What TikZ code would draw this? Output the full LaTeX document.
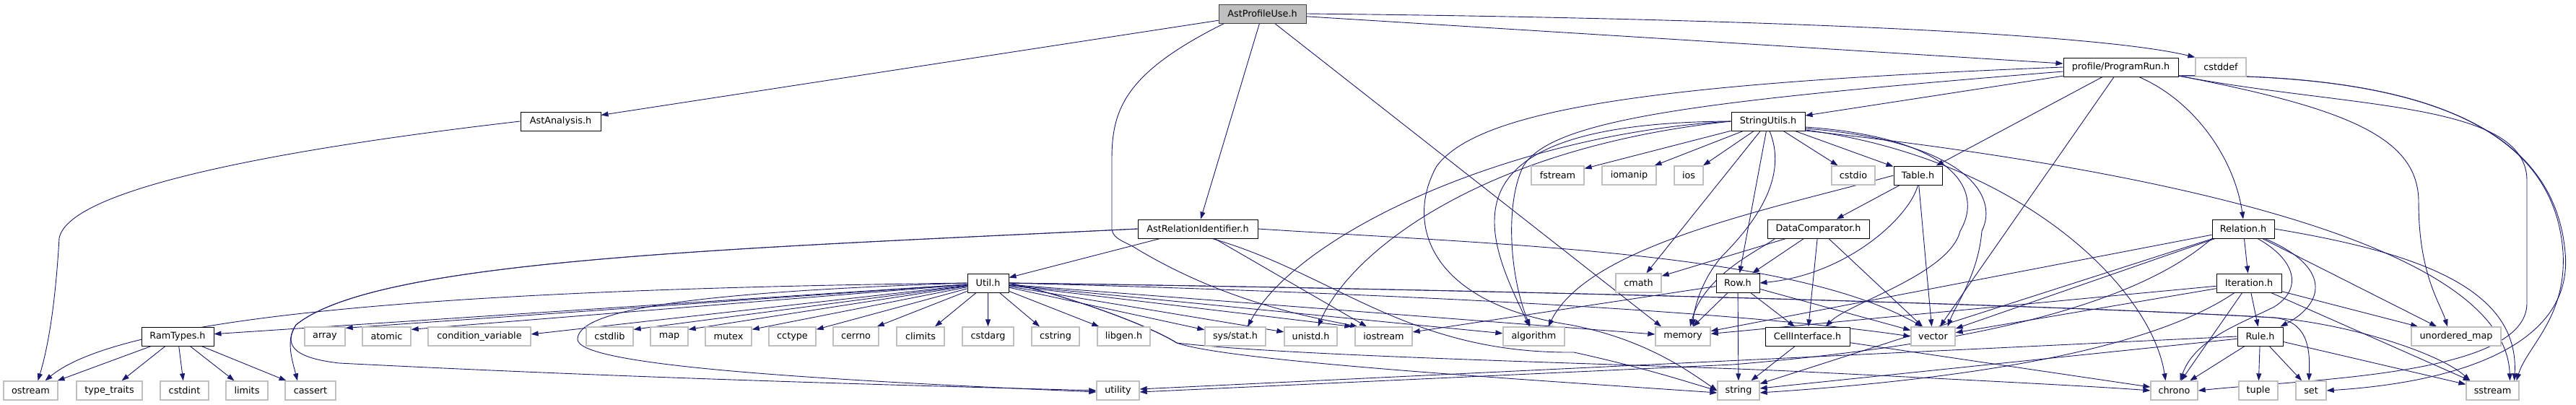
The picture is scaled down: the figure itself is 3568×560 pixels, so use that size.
\documentclass[tikz,border=0pt]{standalone}
\usepackage{fontspec}
\setmainfont{DejaVu Sans}
\usetikzlibrary{arrows.meta}
\definecolor{eblue}{HTML}{191970}
\definecolor{sysgray}{HTML}{BFBFBF}
\pgfdeclarelayer{bg}
\pgfsetlayers{bg,main}
\begin{document}
\begin{tikzpicture}[x=1pt,y=-1pt,
  nodebox/.style={rectangle, minimum height=26pt, inner sep=0pt, font=\fontsize{12.8}{15}\selectfont},
  pbox/.style={nodebox, draw=black, line width=1pt, fill=white},
  sbox/.style={nodebox, draw=sysgray, line width=1.3pt, fill=white},
  rbox/.style={nodebox, draw=black!75, line width=1pt, fill=sysgray},
  dep/.style={draw=eblue, line width=0.9pt, -{Triangle[length=10pt,width=7pt]}}]
\useasboundingbox (0,0) rectangle (3568,560);
% row 1
\node[rbox, minimum width=121pt] (APU) at (1748.5,19) {AstProfileUse.h};
% row 2
\node[pbox, minimum width=159pt] (PR) at (2937.5,93) {profile/ProgramRun.h};
\node[sbox, minimum width=70pt] (cstddef) at (3076,93) {cstddef};
% row 3
\node[pbox, minimum width=111pt] (AA) at (776.5,168) {AstAnalysis.h};
\node[pbox, minimum width=102pt] (SU) at (2449,168) {StringUtils.h};
% row 4
\node[sbox, minimum width=73pt] (fstream) at (2157.5,243) {fstream};
\node[sbox, minimum width=75pt] (iomanip) at (2256.5,243) {iomanip};
\node[sbox, minimum width=40pt] (ios) at (2339,243) {ios};
\node[sbox, minimum width=60pt] (cstdio) at (2567,243) {cstdio};
\node[pbox, minimum width=67pt] (Table) at (2656.5,243) {Table.h};
% row 5
\node[pbox, minimum width=166pt] (ARI) at (1659,317) {AstRelationIdentifier.h};
\node[pbox, minimum width=141pt] (DC) at (2518.5,317) {DataComparator.h};
\node[pbox, minimum width=86pt] (Rel) at (3107,317) {Relation.h};
% row 6
\node[pbox, minimum width=57pt] (Util) at (1368.5,392) {Util.h};
\node[sbox, minimum width=63pt] (cmath) at (2269.5,392) {cmath};
\node[pbox, minimum width=60pt] (Row) at (2407,392) {Row.h};
\node[pbox, minimum width=90pt] (Iter) at (3115,392) {Iteration.h};
% row 7
\node[pbox, minimum width=100pt] (RamTypes) at (246,466) {RamTypes.h};
\node[sbox, minimum width=56pt] (array) at (450,466) {array};
\node[sbox, minimum width=67pt] (atomic) at (535.5,466) {atomic};
\node[sbox, minimum width=142pt] (condvar) at (664,466) {condition\_variable};
\node[sbox, minimum width=65pt] (cstdlib) at (844.5,466) {cstdlib};
\node[sbox, minimum width=52pt] (map) at (927,466) {map};
\node[sbox, minimum width=64pt] (mutex) at (1009,466) {mutex};
\node[sbox, minimum width=65pt] (cctype) at (1097.5,466) {cctype};
\node[sbox, minimum width=63pt] (cerrno) at (1185.5,466) {cerrno};
\node[sbox, minimum width=66pt] (climits) at (1275,466) {climits};
\node[sbox, minimum width=71pt] (cstdarg) at (1368.5,466) {cstdarg};
\node[sbox, minimum width=66pt] (cstring) at (1462,466) {cstring};
\node[sbox, minimum width=73pt] (libgen) at (1556.5,466) {libgen.h};
\node[sbox, minimum width=84pt] (sysstat) at (1711,466) {sys/stat.h};
\node[sbox, minimum width=73pt] (unistd) at (1815.5,466) {unistd.h};
\node[sbox, minimum width=79pt] (iostream) at (1916.5,466) {iostream};
\node[sbox, minimum width=85pt] (algorithm) at (2124.5,466) {algorithm};
\node[sbox, minimum width=76pt] (memory) at (2331,466) {memory};
\node[pbox, minimum width=117pt] (CI) at (2503.5,466) {CellInterface.h};
\node[sbox, minimum width=61pt] (vector) at (2677.5,466) {vector};
\node[pbox, minimum width=63pt] (Rule) at (3130.5,466) {Rule.h};
\node[sbox, minimum width=124pt] (umap) at (3402,466) {unordered\_map};
% row 8
\node[sbox, minimum width=75pt] (ostream) at (42.5,541) {ostream};
\node[sbox, minimum width=91pt] (typetraits) at (151.5,541) {type\_traits};
\node[sbox, minimum width=67pt] (cstdint) at (255.5,541) {cstdint};
\node[sbox, minimum width=58pt] (limits) at (342,541) {limits};
\node[sbox, minimum width=70pt] (cassert) at (430,541) {cassert};
\node[sbox, minimum width=59pt] (utility) at (1548.5,541) {utility};
\node[sbox, minimum width=58pt] (string) at (2408,541) {string};
\node[sbox, minimum width=65pt] (chrono) at (3011.5,541) {chrono};
\node[sbox, minimum width=54pt] (tuple) at (3128,541) {tuple};
\node[sbox, minimum width=42pt] (set) at (3201,541) {set};
\node[sbox, minimum width=73pt] (sstream) at (3452.5,541) {sstream};

\begin{pgfonlayer}{bg}
% ---- AstProfileUse.h
\draw[dep] (APU) -- (AA);
\draw[dep] (APU) -- (ARI);
\draw[dep] (APU) -- (PR);
\draw[dep] (APU) -- ([xshift=-30pt]memory.north);
\draw[dep] (APU.east) .. controls (2400,25) and (2900,45) .. (cstddef.north west);
\draw[dep] ([xshift=8pt]APU.south west) .. controls (1560,100) and (1540,150) .. (1540,220) -- (1540,318)
  .. controls (1542,332) and (1560,335) .. (1575,345) .. controls (1700,420) and (1820,440) .. ([xshift=4pt]iostream.north west);
% ---- AstAnalysis.h
\draw[dep] (AA.west) .. controls (400,205) and (95,260) .. (82,330) .. controls (78,400) and (70,470) .. ([xshift=10pt]ostream.north);
% ---- AstRelationIdentifier.h
\draw[dep] (ARI) -- (Util);
\draw[dep] (ARI) -- (iostream);
\draw[dep] (ARI.west) .. controls (1000,345) and (520,360) .. (410,450) .. controls (395,470) and (405,500) .. ([xshift=-18pt]cassert.north);
\draw[dep] (ARI.west) .. controls (1000,345) and (520,360) .. (410,450) .. controls (395,475) and (400,495) .. (470,503)
  .. controls (900,525) and (1300,535) .. (utility.west);
\draw[dep] ([xshift=20pt]ARI.south) .. controls (1850,380) and (1950,490) .. (2180,488) .. controls (2280,510) and (2340,530) .. (string.west);
\draw[dep] (ARI.east) .. controls (2100,340) and (2480,350) .. ([xshift=-15pt]vector.north);
% ---- Util.h
\draw[dep] (Util) -- (RamTypes);
\draw[dep] (Util.west) .. controls (700,400) and (180,430) .. ([xshift=20pt]ostream.north);
\draw[dep] (Util) -- ([yshift=-2pt]array.north east);
\draw[dep] (Util) -- ([yshift=-4pt]atomic.north east);
\draw[dep] (Util) -- ([yshift=3pt]condvar.east);
\draw[dep] (Util) -- ([yshift=-4pt]cstdlib.north east);
\draw[dep] (Util) -- ([yshift=-4pt]map.north east);
\draw[dep] (Util) -- ([yshift=-4pt]mutex.north east);
\draw[dep] (Util) -- ([yshift=-4pt]cctype.north east);
\draw[dep] (Util) -- ([xshift=-3pt]cerrno.north east);
\draw[dep] (Util) -- ([xshift=20pt]climits.north);
\draw[dep] (Util) -- (cstdarg);
\draw[dep] (Util) -- ([xshift=-22pt]cstring.north);
\draw[dep] (Util) -- ([xshift=3pt]libgen.north west);
\draw[dep] (Util) -- (sysstat);
\draw[dep] (Util) -- (unistd);
\draw[dep] (Util) -- ([xshift=-4pt]iostream.north west);
\draw[dep] (Util) -- (algorithm);
\draw[dep] (Util) -- (memory);
\draw[dep] (Util.west) .. controls (950,405) and (800,430) .. (800,470) .. controls (800,505) and (1100,525) .. ([yshift=-2pt]utility.west);
\draw[dep] (Util.east) .. controls (1480,410) and (1590,450) .. (1630,475) .. controls (1700,500) and (2100,525) .. ([yshift=-3pt]string.west);
\draw[dep] (Util.east) .. controls (1480,410) and (1590,450) .. (1630,475) .. controls (1800,495) and (2300,505) .. (2500,515)
  .. controls (2700,525) and (2900,535) .. (chrono.west);
\draw[dep] (Util.east) .. controls (1900,405) and (2400,430) .. (vector.west);
\draw[dep] (Util.east) .. controls (2000,400) and (2800,420) .. (3150,440) .. controls (3195,445) and (3200,480) .. ([xshift=-3pt]set.north);
\draw[dep] (Util.east) .. controls (2000,400) and (2800,420) .. (3150,440) .. controls (3260,450) and (3380,490) .. ([xshift=6pt]sstream.north west);
% ---- RamTypes.h
\draw[dep] (RamTypes) -- (ostream);
\draw[dep] (RamTypes) -- (typetraits);
\draw[dep] (RamTypes) -- (cstdint);
\draw[dep] (RamTypes) -- (limits);
\draw[dep] (RamTypes) -- (cassert);
% ---- StringUtils.h
\draw[dep] (SU) -- (fstream);
\draw[dep] (SU) -- (iomanip);
\draw[dep] (SU) -- (ios);
\draw[dep] (SU) -- (cstdio);
\draw[dep] (SU) -- (Table);
\draw[dep] (SU) -- (cmath);
\draw[dep] (SU) -- (Row);
\draw[dep] (SU.west) .. controls (2100,185) and (1800,320) .. ([xshift=17pt]sysstat.north);
\draw[dep] (SU.west) .. controls (2050,205) and (1870,350) .. ([xshift=10pt]unistd.north);
\draw[dep] (SU.west) .. controls (1980,170) and (2060,330) .. ([xshift=-6pt]algorithm.north);
\draw[dep] ([xshift=2pt]SU.south) .. controls (2475,240) and (2440,300) .. (2385,355) .. controls (2355,390) and (2346,430) .. ([xshift=14pt]memory.north);
\draw[dep] ([yshift=-8pt]SU.east) .. controls (2700,190) and (2750,260) .. (2715,320) .. controls (2700,380) and (2560,420) .. ([xshift=25pt]CI.north);
\draw[dep] ([yshift=-10pt]SU.east) .. controls (2720,195) and (2770,270) .. (2745,320) .. controls (2740,380) and (2710,420) .. ([xshift=20pt]vector.north);
\draw[dep] ([yshift=-12pt]SU.east) .. controls (2800,220) and (2980,400) .. ([xshift=-12pt]chrono.north);
\draw[dep] ([yshift=-13pt]SU.east) .. controls (2950,230) and (3470,330) .. ([xshift=24pt]sstream.north);
% ---- Table.h
\draw[dep] (Table) -- (DC);
\draw[dep] (Table) -- ([xshift=-2pt]vector.north);
\draw[dep] (Table.south) .. controls (2645,300) and (2560,380) .. (Row.east);
\draw[dep] (Table.west) .. controls (2450,290) and (2200,340) .. ([xshift=20pt]algorithm.north);
% ---- DataComparator.h
\draw[dep] (DC) -- (CI);
\draw[dep] (DC) -- (Row);
\draw[dep] (DC) -- (vector);
\draw[dep] (DC) -- (cmath);
\draw[dep] ([xshift=-60pt]DC.south) .. controls (2440,345) and (2360,380) .. ([xshift=10pt]memory.north);
% ---- Row.h
\draw[dep] (Row) -- (CI);
\draw[dep] (Row) -- (string);
\draw[dep] (Row) -- (memory);
\draw[dep] (Row) -- (vector);
\draw[dep] (Row) -- (iostream);
% ---- CellInterface.h
\draw[dep] (CI) -- (chrono);
\draw[dep] (CI) -- (string);
% ---- Relation.h
\draw[dep] (Rel) -- (Iter);
\draw[dep] (Rel) -- (memory);
\draw[dep] (Rel) -- (vector);
\draw[dep] (Rel) -- (string);
\draw[dep] (Rel) -- (umap);
\draw[dep] ([xshift=30pt]Rel.south) .. controls (3230,370) and (3220,420) .. ([xshift=28pt]Rule.north);
\draw[dep] ([xshift=20pt]Rel.south) .. controls (3180,360) and (3190,400) .. (3150,425) .. controls (3100,450) and (3040,470) .. ([xshift=8pt]chrono.north);
\draw[dep] (Rel.east) .. controls (3350,350) and (3490,400) .. ([xshift=30pt]sstream.north);
\draw[dep] (Rel.south west) .. controls (2950,430) and (2700,480) .. (2400,505) -- ([yshift=-2pt]utility.east);
% ---- Iteration.h
\draw[dep] (Iter) -- (Rule);
\draw[dep] (Iter) -- (memory);
\draw[dep] (Iter) -- (vector);
\draw[dep] ([xshift=-20pt]Iter.south) .. controls (3000,470) and (2800,520) .. ([yshift=-3pt]string.east);
\draw[dep] (Iter) -- (chrono);
\draw[dep] (Iter) -- (umap);
\draw[dep] (Iter) -- (sstream);
% ---- Rule.h
\draw[dep] (Rule) -- (chrono);
\draw[dep] (Rule) -- (tuple);
\draw[dep] (Rule) -- (set);
\draw[dep] (Rule) -- (sstream);
\draw[dep] (Rule) -- (string);
\draw[dep] (Rule.west) -- ([yshift=2pt]utility.east);
% ---- profile/ProgramRun.h
\draw[dep] (PR) -- (SU);
\draw[dep] (PR) -- (Table);
\draw[dep] (PR) -- (vector);
\draw[dep] ([xshift=25pt]PR.south) .. controls (3040,140) and (3095,220) .. (Rel.north);
\draw[dep] (PR.west) .. controls (2300,115) and (2050,150) .. (1990,230) .. controls (1945,310) and (1980,420) .. (2175,450)
  .. controls (2280,470) and (2340,515) .. (string.west);
\draw[dep] ([yshift=-6pt]PR.west) .. controls (2350,140) and (2150,165) .. (2110,230) .. controls (2085,280) and (2090,380) .. ([xshift=-5pt]algorithm.north);
\draw[dep] ([yshift=-12pt]PR.east) .. controls (3250,150) and (3350,190) .. (3350,280) .. controls (3350,380) and (3380,420) .. ([xshift=-12pt]umap.north);
\draw[dep] ([yshift=-12pt]PR.east) .. controls (3250,150) and (3500,140) .. (3500,250) -- (3500,420) .. controls (3500,520) and (3200,525) .. (chrono.east);
\draw[dep] ([yshift=-12pt]PR.east) .. controls (3400,100) and (3540,200) .. (3553,350) .. controls (3565,480) and (3400,530) .. (set.east);
\draw[dep] ([yshift=-12pt]PR.east) .. controls (3400,100) and (3540,200) .. (3550,350) .. controls (3555,440) and (3500,480) .. ([xshift=33pt]sstream.north);
\end{pgfonlayer}
\end{tikzpicture}
\end{document}
